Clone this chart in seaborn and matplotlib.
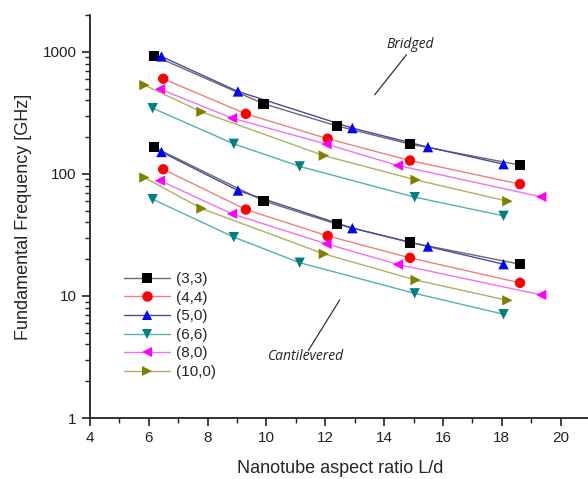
import numpy as np
import pandas as pd
import matplotlib
matplotlib.use("Agg")
import matplotlib.pyplot as plt
from matplotlib.lines import Line2D
from matplotlib.ticker import LogLocator, FixedLocator, MultipleLocator, NullFormatter
import seaborn as sns

# Nanotube chiralities
tubes = ["(3,3)", "(4,4)", "(5,0)", "(6,6)", "(8,0)", "(10,0)"]

# Aspect ratios L/d for each chirality
ld_33 = [6.17, 9.90, 12.39, 14.89, 18.61]
ld_44 = [6.49, 9.30, 12.08, 14.88, 18.62]
ld_50 = [6.43, 9.03, 12.92, 15.49, 18.06]
ld_66 = [6.13, 8.89, 11.13, 15.04, 18.06]
ld_80 = [6.38, 8.83, 12.04, 14.47, 19.34]
ld_100 = [5.85, 7.79, 11.95, 15.07, 18.19]

# Fundamental frequencies [GHz], bridged boundary conditions
br_33 = [928, 375, 247, 175, 118]
br_44 = [601, 310, 194, 128.5, 82.4]
br_50 = [915, 473, 237, 165.5, 120]
br_66 = [345, 176, 115, 64.4, 45.3]
br_80 = [494, 286, 175, 117, 64.8]
br_100 = [533, 322, 141, 89.3, 59.7]

# Fundamental frequencies [GHz], cantilevered boundary conditions
ca_33 = [165.5, 60.1, 38.7, 27.4, 18.2]
ca_44 = [109, 51, 31, 20.5, 12.8]
ca_50 = [151, 73, 35.9, 25.4, 18.2]
ca_66 = [62, 30.3, 18.7, 10.5, 7.08]
ca_80 = [88, 47, 26.7, 18.1, 10.2]
ca_100 = [93.3, 52, 22.1, 13.5, 9.2]

ld = [ld_33, ld_44, ld_50, ld_66, ld_80, ld_100]
bridged = [br_33, br_44, br_50, br_66, br_80, br_100]
cantilevered = [ca_33, ca_44, ca_50, ca_66, ca_80, ca_100]

rows = []
for t, xs, b, c in zip(tubes, ld, bridged, cantilevered):
    for x, v in zip(xs, b):
        rows.append({"tube": t, "support": "Bridged", "ld": x, "freq": v})
    for x, v in zip(xs, c):
        rows.append({"tube": t, "support": "Cantilevered", "ld": x, "freq": v})
df = pd.DataFrame(rows)

colors = {"(3,3)": "#000000", "(4,4)": "#ff0000", "(5,0)": "#0000ff",
          "(6,6)": "#008080", "(8,0)": "#ff00ff", "(10,0)": "#808000"}
line_colors = {"(3,3)": "#6a6a6a", "(4,4)": "#f08080", "(5,0)": "#4a4aa0",
               "(6,6)": "#55b0b0", "(8,0)": "#f070f0", "(10,0)": "#b0b060"}
markers = {"(3,3)": "s", "(4,4)": "o", "(5,0)": "^",
           "(6,6)": "v", "(8,0)": "<", "(10,0)": ">"}

sns.set_theme(style="ticks")
plt.rcParams["font.family"] = ["Liberation Sans", "DejaVu Sans"]

W, H = 588, 479
fig = plt.figure(figsize=(W / 100, H / 100), dpi=100)
ax = fig.add_axes([90 / W, (H - 418) / H, 500 / W, (418 - 15) / H])

for t in tubes:
    sub = df[df["tube"] == t]
    sns.lineplot(data=sub, x="ld", y="freq", units="support", estimator=None,
                 sort=False, color=line_colors[t], linewidth=1.0, ax=ax,
                 legend=False)
    ax.scatter(sub["ld"], sub["freq"], marker=markers[t], s=56,
               color=colors[t], edgecolors="none", zorder=3)

ax.set_yscale("log")
ax.set_xlim(4, 21)
ax.set_ylim(1, 2000)
ax.xaxis.set_major_locator(MultipleLocator(2))
ax.xaxis.set_minor_locator(MultipleLocator(1))
ax.yaxis.set_major_locator(FixedLocator([1, 10, 100, 1000]))
ax.yaxis.set_major_formatter(matplotlib.ticker.FuncFormatter(lambda v, p: f"{int(v)}"))
ax.yaxis.set_minor_locator(LogLocator(base=10, subs=np.arange(2, 10), numticks=20))
ax.yaxis.set_minor_formatter(NullFormatter())

for s in ["top", "right"]:
    ax.spines[s].set_visible(False)
for s in ["left", "bottom"]:
    ax.spines[s].set_linewidth(1.3)
    ax.spines[s].set_color("#222222")

ax.tick_params(which="major", direction="out", length=6, width=1.2,
               labelsize=11, colors="#222222")
ax.tick_params(which="minor", direction="out", length=3.5, width=1.0,
               colors="#222222")

ax.set_xlabel("Nanotube aspect ratio L/d", fontsize=13, labelpad=11)
ax.set_ylabel("Fundamental Frequency [GHz]", fontsize=13, labelpad=8)

# Annotations for the two support cases
ax.plot([14.76, 13.68], [945, 444], color="#333333", linewidth=0.9)
ax.text(14.87, 1141, "Bridged", fontstyle="italic", fontsize=10,
        family=["Open Sans", "DejaVu Sans"], ha="center", va="center",
        color="#222222")
ax.plot([12.49, 11.42], [9.27, 3.56], color="#333333", linewidth=0.9)
ax.text(11.34, 3.16, "Cantilevered", fontstyle="italic", fontsize=10,
        family=["Open Sans", "DejaVu Sans"], ha="center", va="center",
        color="#222222")

handles = [Line2D([0], [0], color=line_colors[t], linewidth=1.0,
                  marker=markers[t], markersize=7.5, markerfacecolor=colors[t],
                  markeredgecolor=colors[t], markeredgewidth=0)
           for t in tubes]
ax.legend(handles, tubes, loc="upper left", frameon=False, fontsize=11,
          handlelength=3.0, labelspacing=0.3, handletextpad=0.4,
          borderaxespad=0, bbox_to_anchor=(118 / W, (H - 266) / H),
          bbox_transform=fig.transFigure)

fig.savefig("out.png", dpi=100)
